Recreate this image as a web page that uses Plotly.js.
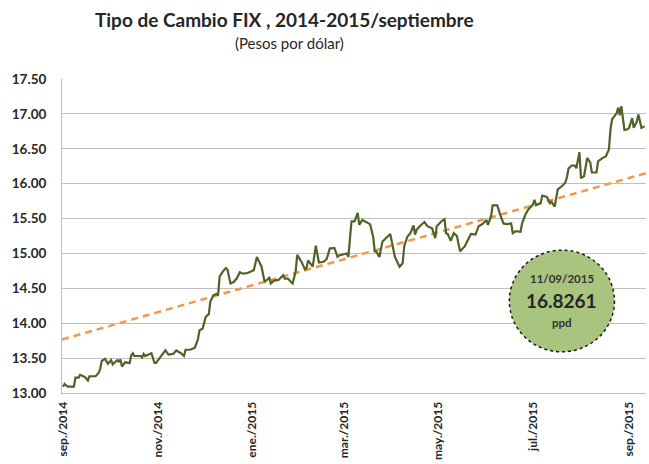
<!DOCTYPE html>
<html>
<head>
<meta charset="utf-8">
<script src="https://cdn.plot.ly/plotly-3.0.1.min.js"></script>
<style>html,body{margin:0;padding:0;background:#fff;}#chart{width:649px;height:464px;}</style>
</head>
<body>
<div id="chart"></div>
<script>
const dates = [
"2014-09-01","2014-09-02","2014-09-04","2014-09-08","2014-09-09","2014-09-11","2014-09-12","2014-09-15","2014-09-17","2014-09-18",
"2014-09-22","2014-09-24","2014-09-25","2014-09-26","2014-09-28","2014-09-30","2014-10-02","2014-10-03","2014-10-06","2014-10-07",
"2014-10-08","2014-10-09","2014-10-11","2014-10-14","2014-10-15","2014-10-16","2014-10-17","2014-10-21","2014-10-22","2014-10-23",
"2014-10-24","2014-10-26","2014-10-28","2014-10-30","2014-10-31","2014-11-03","2014-11-05","2014-11-06","2014-11-08","2014-11-11",
"2014-11-13","2014-11-16","2014-11-18","2014-11-19","2014-11-22","2014-11-25","2014-11-27","2014-11-28","2014-11-30","2014-12-02",
"2014-12-04","2014-12-05","2014-12-07","2014-12-09","2014-12-10","2014-12-11","2014-12-13","2014-12-15","2014-12-16","2014-12-18",
"2014-12-20","2014-12-22","2014-12-24","2014-12-26","2014-12-29","2015-01-02","2015-01-04","2015-01-07","2015-01-09","2015-01-10",
"2015-01-12","2015-01-13","2015-01-15","2015-01-18","2015-01-20","2015-01-21","2015-01-22","2015-01-24","2015-01-26","2015-01-27",
"2015-01-29","2015-01-30","2015-02-02","2015-02-04","2015-02-05","2015-02-06","2015-02-08","2015-02-09","2015-02-11","2015-02-13",
"2015-02-16","2015-02-18","2015-02-20","2015-02-23","2015-02-25","2015-02-26","2015-03-03","2015-03-04","2015-03-06","2015-03-08",
"2015-03-10","2015-03-11","2015-03-13","2015-03-15","2015-03-18","2015-03-20","2015-03-21","2015-03-22","2015-03-24","2015-03-26",
"2015-03-31","2015-04-01","2015-04-03","2015-04-06","2015-04-08","2015-04-09","2015-04-11","2015-04-13","2015-04-15","2015-04-16",
"2015-04-17","2015-04-19","2015-04-22","2015-04-24","2015-04-27","2015-04-29","2015-04-30","2015-05-03","2015-05-05","2015-05-06",
"2015-05-07","2015-05-09","2015-05-11","2015-05-13","2015-05-15","2015-05-18","2015-05-20","2015-05-22","2015-05-25","2015-05-27",
"2015-05-30","2015-06-01","2015-06-02","2015-06-04","2015-06-05","2015-06-08","2015-06-10","2015-06-12","2015-06-14","2015-06-17",
"2015-06-18","2015-06-20","2015-06-23","2015-06-24","2015-06-26","2015-06-28","2015-07-01","2015-07-02","2015-07-03","2015-07-06",
"2015-07-07","2015-07-10","2015-07-12","2015-07-13","2015-07-15","2015-07-17","2015-07-20","2015-07-22","2015-07-23","2015-07-24",
"2015-07-26","2015-07-28","2015-07-29","2015-07-31","2015-08-01","2015-08-02","2015-08-03","2015-08-05","2015-08-07","2015-08-08",
"2015-08-11","2015-08-12","2015-08-13","2015-08-15","2015-08-17","2015-08-19","2015-08-20","2015-08-21","2015-08-24","2015-08-25",
"2015-08-26","2015-08-27","2015-08-29","2015-08-31","2015-09-01","2015-09-03","2015-09-04","2015-09-06","2015-09-07","2015-09-09",
"2015-09-10","2015-09-11"
];
const fix = [
13.09,13.13,13.09,13.09,13.22,13.22,13.26,13.23,13.18,13.24,
13.24,13.29,13.35,13.46,13.49,13.42,13.47,13.41,13.47,13.45,
13.48,13.38,13.44,13.43,13.54,13.57,13.53,13.53,13.51,13.56,
13.53,13.55,13.57,13.43,13.43,13.52,13.58,13.61,13.55,13.56,
13.61,13.57,13.53,13.62,13.62,13.65,13.77,13.90,13.92,14.09,
14.13,14.31,14.40,14.42,14.40,14.67,14.74,14.79,14.77,14.57,
14.59,14.64,14.73,14.71,14.72,14.76,14.95,14.81,14.59,14.61,
14.65,14.57,14.61,14.62,14.67,14.69,14.64,14.64,14.59,14.57,
14.74,14.98,14.87,14.77,14.79,14.90,14.84,14.81,15.11,14.87,
14.88,14.92,15.07,15.08,14.95,14.97,15.00,14.95,15.46,15.46,
15.58,15.41,15.48,15.46,15.42,15.24,15.03,15.03,14.95,15.17,
15.28,15.17,14.95,14.81,14.86,15.10,15.24,15.29,15.40,15.27,
15.34,15.39,15.45,15.39,15.36,15.22,15.39,15.46,15.49,15.29,
15.28,15.18,15.29,15.25,15.03,15.10,15.19,15.28,15.27,15.39,
15.43,15.48,15.41,15.53,15.69,15.69,15.55,15.43,15.42,15.43,
15.29,15.32,15.31,15.43,15.55,15.63,15.70,15.77,15.69,15.72,
15.83,15.81,15.72,15.74,15.67,15.92,15.97,16.02,16.10,16.22,
16.26,16.26,16.22,16.45,16.08,16.09,16.11,16.37,16.30,16.16,
16.16,16.32,16.34,16.37,16.39,16.49,16.77,16.92,17.01,17.09,
16.98,17.11,16.77,16.78,16.80,16.94,16.80,16.89,16.99,16.80,
16.81,16.8261
];
const trendDates = ["2014-08-31 08:00","2015-09-11 22:00"];
const trendValues = [13.767, 16.15];
const tickDates = ["2014-09-01","2014-11-01","2015-01-01","2015-03-01","2015-05-01","2015-07-01","2015-09-01"];
const tickLabels = ["sep./2014","nov./2014","ene./2015","mar./2015","may./2015","jul./2015","sep./2015"];
const yTicks = [13,13.5,14,14.5,15,15.5,16,16.5,17,17.5];
const lastDate = "11/09/2015";
const lastValue = "16.8261";

const FONT = "Lato, 'Open Sans', sans-serif";
const traces = [
  {x: trendDates, y: trendValues, type: "scatter", mode: "lines",
   line: {color: "#f79646", width: 2.5, dash: "7px,5px"}, hoverinfo: "skip"},
  {x: dates, y: fix, type: "scatter", mode: "lines",
   line: {color: "#4f6228", width: 2.2}}
];
const layout = {
  width: 649, height: 464,
  margin: {l: 62, r: 3, t: 79, b: 71},
  paper_bgcolor: "#fff", plot_bgcolor: "#fff",
  showlegend: false,
  font: {family: FONT, color: "#262626"},
  title: {text: "<b>Tipo de Cambio FIX , 2014-2015/septiembre</b>",
    x: 0.438, xanchor: "center", xref: "container",
    y: 0.957, yanchor: "middle", yref: "container",
    font: {size: 19, family: FONT, color: "#262626"}},
  xaxis: {type: "date", range: [trendDates[0], trendDates[1]],
    tickvals: tickDates, ticktext: tickLabels, tickangle: -90,
    tickfont: {size: 12, family: FONT, color: "#262626", weight: "bold"},
    ticklabelstandoff: 3,
    showgrid: false, zeroline: false, showline: true, linecolor: "#bfbfbf", linewidth: 1,
    ticks: "", fixedrange: true},
  yaxis: {range: [13, 17.5], tickvals: yTicks, tickformat: ".2f",
    tickfont: {size: 13.5, family: FONT, color: "#262626", weight: "bold"},
    ticklabelstandoff: 12,
    showgrid: true, gridcolor: "#bfbfbf", gridwidth: 1, zeroline: false,
    showline: true, linecolor: "#bfbfbf", linewidth: 1, ticks: "", ticklen: 0,
    fixedrange: true},
  shapes: [{type: "circle", xref: "paper", yref: "paper",
    x0: 0.766, x1: 0.946, y0: 0.131, y1: 0.455,
    fillcolor: "#a9c47f", line: {color: "#1a1a1a", width: 1.5, dash: "dot"}}],
  annotations: [
    {text: "(Pesos por dólar)", xref: "paper", yref: "paper", x: 0.389, y: 1.115,
     xanchor: "center", yanchor: "middle", showarrow: false,
     font: {size: 15, family: FONT, color: "#262626"}},
    {text: "<b>" + lastDate + "</b>", xref: "paper", yref: "paper", x: 0.856, y: 0.366,
     xanchor: "center", yanchor: "middle", showarrow: false,
     font: {size: 11.5, family: FONT, color: "#333"}},
    {text: "<b>" + lastValue + "</b>", xref: "paper", yref: "paper", x: 0.856, y: 0.293,
     xanchor: "center", yanchor: "middle", showarrow: false,
     font: {size: 19, family: FONT, color: "#262626"}},
    {text: "<b>ppd</b>", xref: "paper", yref: "paper", x: 0.856, y: 0.223,
     xanchor: "center", yanchor: "middle", showarrow: false,
     font: {size: 11.5, family: FONT, color: "#333"}}
  ]
};
Plotly.newPlot("chart", traces, layout, {displayModeBar: false, staticPlot: true});
</script>
</body>
</html>
